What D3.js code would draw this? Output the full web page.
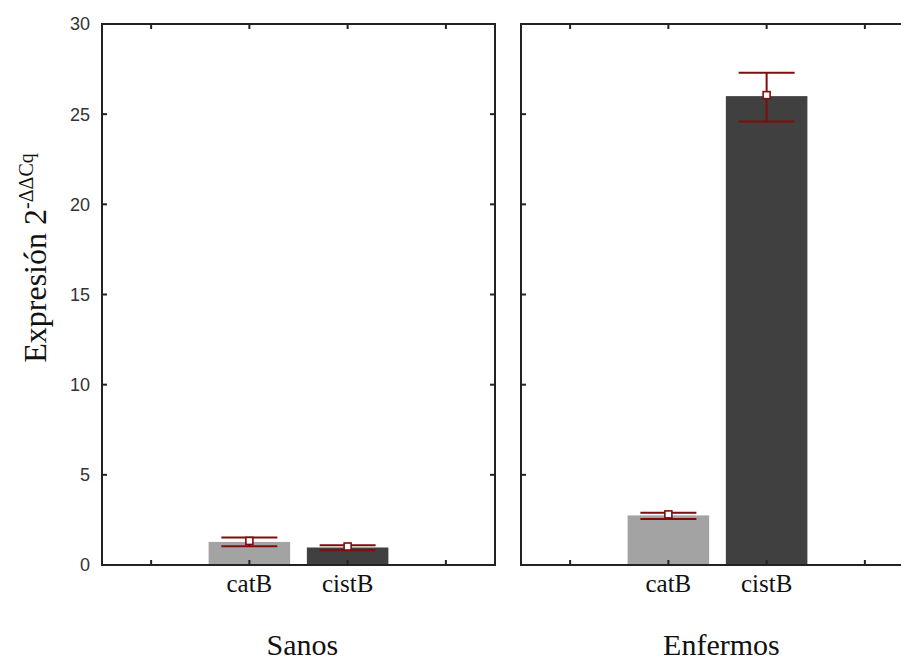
<!DOCTYPE html>
<html>
<head>
<meta charset="utf-8">
<script src="https://cdn.jsdelivr.net/npm/d3@7"></script>
<style>
  body { margin: 0; background: #fff; }
  svg { display: block; }
</style>
</head>
<body>
<div id="chart"></div>
<script>
// data
const groups = ["Sanos", "Enfermos"];
const genes = ["catB", "cistB"];
const slots = ["left", "catB", "cistB", "right"];
const barValues = {
  Sanos: [1.28, 0.97],
  Enfermos: [2.75, 26.0]
};
const lowerErr = {
  Sanos: [1.04, 0.82],
  Enfermos: [2.55, 24.6]
};
const upperErr = {
  Sanos: [1.52, 1.1],
  Enfermos: [2.9, 27.3]
};
const yTicks = [0, 5, 10, 15, 20, 25, 30];

const w = 901;
const h = 660;
const plotTop = 24;
const plotBottom = 565;
const panelW = 393;
const panelX = [102, 521];
const tickLen = 5;

const barColours = { catB: "#a3a3a3", cistB: "#404040" };
const errColour = "#800c0c";
const axisColour = "#222";

const svg = d3.select("#chart").append("svg").attr("width", w).attr("height", h);

const yScale = d3.scaleLinear().domain([0, 30]).range([plotBottom, plotTop]);

groups.forEach((g, gi) => {
  const x0 = panelX[gi];
  const xScale = d3.scaleBand().domain(slots).range([x0, x0 + panelW]).paddingInner(0.17).paddingOuter(0.085);
  const xCentre = (s) => xScale(s) + xScale.bandwidth() / 2;

  const panel = svg.append("g");

  const rows = genes.map((gene, i) => ({
    gene,
    value: barValues[g][i],
    lo: lowerErr[g][i],
    hi: upperErr[g][i]
  }));

  // bars
  panel.selectAll("rect.bar")
    .data(rows)
    .enter()
    .append("rect")
    .attr("class", "bar")
    .attr("x", (d) => xScale(d.gene))
    .attr("y", (d) => yScale(d.value))
    .attr("width", xScale.bandwidth())
    .attr("height", (d) => yScale(0) - yScale(d.value))
    .style("fill", (d) => barColours[d.gene]);

  // frame
  panel.append("rect")
    .attr("x", x0)
    .attr("y", plotTop)
    .attr("width", panelW)
    .attr("height", plotBottom - plotTop)
    .style("fill", "none")
    .style("stroke", axisColour)
    .style("stroke-width", 2);

  // y ticks, inward on both sides
  panel.selectAll("line.ytl")
    .data(yTicks.slice(1, -1))
    .enter()
    .append("line")
    .attr("x1", x0)
    .attr("x2", x0 + tickLen)
    .attr("y1", (d) => yScale(d))
    .attr("y2", (d) => yScale(d))
    .style("stroke", axisColour)
    .style("stroke-width", 2);

  panel.selectAll("line.ytr")
    .data(yTicks.slice(1, -1))
    .enter()
    .append("line")
    .attr("x1", x0 + panelW)
    .attr("x2", x0 + panelW - tickLen)
    .attr("y1", (d) => yScale(d))
    .attr("y2", (d) => yScale(d))
    .style("stroke", axisColour)
    .style("stroke-width", 2);

  // x ticks, top and bottom
  panel.selectAll("line.xtb")
    .data(slots)
    .enter()
    .append("line")
    .attr("x1", xCentre)
    .attr("x2", xCentre)
    .attr("y1", plotBottom)
    .attr("y2", plotBottom - tickLen)
    .style("stroke", axisColour)
    .style("stroke-width", 2);

  panel.selectAll("line.xtt")
    .data(slots)
    .enter()
    .append("line")
    .attr("x1", xCentre)
    .attr("x2", xCentre)
    .attr("y1", plotTop)
    .attr("y2", plotTop + tickLen)
    .style("stroke", axisColour)
    .style("stroke-width", 2);

  // error bars
  const capHalf = 28;
  const err = panel.selectAll("g.err").data(rows).enter().append("g");
  err.append("line")
    .attr("x1", (d) => xCentre(d.gene))
    .attr("x2", (d) => xCentre(d.gene))
    .attr("y1", (d) => yScale(d.lo))
    .attr("y2", (d) => yScale(d.hi));
  err.append("line")
    .attr("x1", (d) => xCentre(d.gene) - capHalf)
    .attr("x2", (d) => xCentre(d.gene) + capHalf)
    .attr("y1", (d) => yScale(d.lo))
    .attr("y2", (d) => yScale(d.lo));
  err.append("line")
    .attr("x1", (d) => xCentre(d.gene) - capHalf)
    .attr("x2", (d) => xCentre(d.gene) + capHalf)
    .attr("y1", (d) => yScale(d.hi))
    .attr("y2", (d) => yScale(d.hi));
  err.selectAll("line").style("stroke", errColour).style("stroke-width", 2);
  err.append("rect")
    .attr("x", (d) => xCentre(d.gene) - 3.5)
    .attr("y", (d) => yScale(d.value) - 4.5)
    .attr("width", 7)
    .attr("height", 7)
    .style("fill", "#fff")
    .style("stroke", errColour)
    .style("stroke-width", 1.6);

  // category labels
  panel.selectAll("text.cat")
    .data(genes)
    .enter()
    .append("text")
    .attr("x", xCentre)
    .attr("y", 592)
    .attr("text-anchor", "middle")
    .style("font-family", "'Liberation Serif', 'Times New Roman', serif")
    .style("font-size", "25px")
    .style("fill", "#111")
    .text((d) => d);

  // group label
  panel.append("text")
    .attr("x", x0 + panelW * 0.51)
    .attr("y", 655)
    .attr("text-anchor", "middle")
    .style("font-family", "'Liberation Serif', 'Times New Roman', serif")
    .style("font-size", "30px")
    .style("fill", "#111")
    .text(g);
});

// y tick labels on the left panel
svg.selectAll("text.ytick")
  .data(yTicks)
  .enter()
  .append("text")
  .attr("x", 90)
  .attr("y", (d) => yScale(d))
  .attr("dy", "0.36em")
  .attr("text-anchor", "end")
  .style("font-family", "'Liberation Sans', Arial, sans-serif")
  .style("font-size", "18px")
  .style("fill", "#333")
  .text((d) => d);

// y axis title
const title = svg.append("text")
  .attr("transform", "translate(46,258) rotate(-90)")
  .attr("text-anchor", "middle")
  .style("font-family", "'Liberation Serif', 'Times New Roman', serif")
  .style("font-size", "32px")
  .style("fill", "#111");
title.append("tspan").text("Expresión 2");
title.append("tspan")
  .attr("dy", "-0.65em")
  .style("font-size", "20px")
  .text("-ΔΔCq");
</script>
</body>
</html>
